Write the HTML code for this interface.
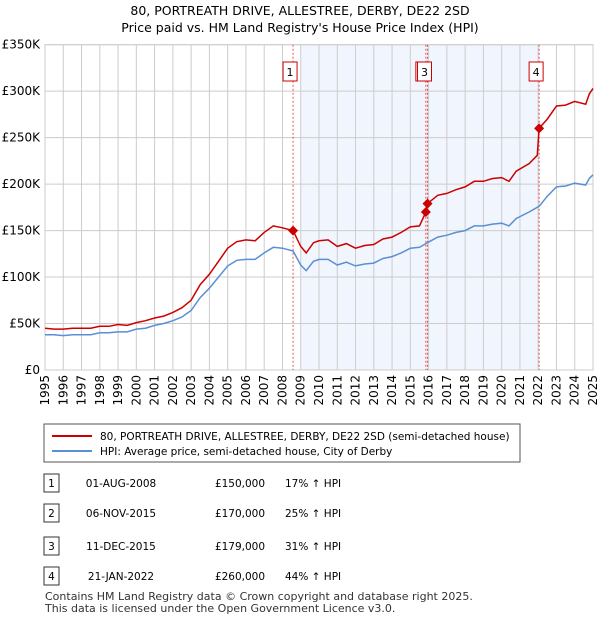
<!DOCTYPE html>
<html><head><meta charset="utf-8"><style>
body{margin:0;background:#fff;font-family:"Liberation Sans","DejaVu Sans",sans-serif;}
#wrap{position:relative;width:600px;height:620px;overflow:hidden}
svg text{font-family:"DejaVu Sans","Liberation Sans",sans-serif;}
</style></head><body><div id="wrap">
<svg id="chart" width="600" height="620">
<text x="300" y="15" text-anchor="middle" font-size="12.5">80, PORTREATH DRIVE, ALLESTREE, DERBY, DE22 2SD</text>
<text x="300" y="32" text-anchor="middle" font-size="12.5">Price paid vs. HM Land Registry's House Price Index (HPI)</text>
<g id="grid"></g><g id="marks"></g><g id="axes"></g>
<rect x="44" y="424" width="476" height="38" fill="#fff" stroke="#555"/>
<line x1="52" y1="436" x2="92" y2="436" stroke="#cc0000" stroke-width="2"/>
<text x="100" y="440" font-size="10.5">80, PORTREATH DRIVE, ALLESTREE, DERBY, DE22 2SD (semi-detached house)</text>
<line x1="52" y1="451" x2="92" y2="451" stroke="#5b8fd4" stroke-width="2"/>
<text x="100" y="455" font-size="10.5">HPI: Average price, semi-detached house, City of Derby</text>
<g id="table" font-size="10.5"></g>
<text x="45" y="600" font-size="11" fill="#333">Contains HM Land Registry data © Crown copyright and database right 2025.</text>
<text x="45" y="612" font-size="11" fill="#333">This data is licensed under the Open Government Licence v3.0.</text>
</svg></div>
<script>
const dates=[1995.0,1995.5,1996.0,1996.5,1997.0,1997.5,1998.0,1998.5,1999.0,1999.5,2000.0,2000.5,2001.0,2001.5,2002.0,2002.5,2003.0,2003.5,2004.0,2004.5,2005.0,2005.5,2006.0,2006.5,2007.0,2007.5,2008.0,2008.58,2009.0,2009.3,2009.7,2010.0,2010.5,2011.0,2011.5,2012.0,2012.5,2013.0,2013.5,2014.0,2014.5,2015.0,2015.5,2015.85,2015.94,2016.5,2017.0,2017.5,2018.0,2018.5,2019.0,2019.5,2020.0,2020.4,2020.8,2021.5,2021.95,2022.05,2022.5,2023.0,2023.5,2024.0,2024.6,2024.8,2025.0];
const hpiValues=[38,38,37,38,38,38,40,40,41,41,44,45,48,50,53,57,64,78,88,100,112,118,119,119,126,132,131,128,113,107,117,119,119,113,116,112,114,115,120,122,126,131,132,136,137,143,145,148,150,155,155,157,158,155,163,170,175,176,187,197,198,201,199,206,210];
const priceValues=[45,44,44,45,45,45,47,47,49,48,51,53,56,58,62,67,75,92,103,117,131,138,140,139,148,155,153,150,133,126,137,139,140,133,136,131,134,135,141,143,148,154,155,170,179,188,190,194,197,203,203,206,207,203,214,222,231,260,270,284,285,289,286,297,303];
const saleLabels=["1","2","3","4"];
const saleDates=[2008.58,2015.85,2015.94,2022.05];
const salePrices=[150,170,179,260];
const saleDateText=["01-AUG-2008","06-NOV-2015","11-DEC-2015","21-JAN-2022"];
const salePriceText=["£150,000","£170,000","£179,000","£260,000"];
const salePctText=["17% ↑ HPI","25% ↑ HPI","31% ↑ HPI","44% ↑ HPI"];
const yTicks=[0,50,100,150,200,250,300,350];
const yTickLabels=["£0","£50K","£100K","£150K","£200K","£250K","£300K","£350K"];
const xTicks=[1995,1996,1997,1998,1999,2000,2001,2002,2003,2004,2005,2006,2007,2008,2009,2010,2011,2012,2013,2014,2015,2016,2017,2018,2019,2020,2021,2022,2023,2024,2025];
const shadeRange=[2009.0,2022.05];

const NS="http://www.w3.org/2000/svg";
const X0=45,X1=593,Y0=370,Y1=44.7;
const xs=d=>X0+(d-1995)/30*(X1-X0);
const ys=v=>Y0-v/350*(Y0-Y1);
function mk(t,a,p){const e=document.createElementNS(NS,t);for(const k in a)e.setAttribute(k,a[k]);p.appendChild(e);return e;}
const grid=document.getElementById('grid'),marks=document.getElementById('marks'),axes=document.getElementById('axes'),table=document.getElementById('table');
const sh=mk('rect',{x:xs(shadeRange[0]),y:Y1,width:xs(shadeRange[1])-xs(shadeRange[0]),height:Y0-Y1,fill:'#eef3fc',opacity:0.8},grid);


yTicks.forEach((v,i)=>{
 const l=mk('line',{x1:X0,x2:X1,y1:ys(v),y2:ys(v),stroke:'#ccc'},grid);
 
 
 const t=mk('text',{x:40,y:ys(v)+4,'text-anchor':'end','font-size':12},axes);
 t.textContent=yTickLabels[i];
 
 
});
xTicks.forEach(d=>{
 const l=mk('line',{x1:xs(d),x2:xs(d),y1:Y1,y2:Y0,stroke:'#ccc'},grid);
 
 
 const t=mk('text',{x:0,y:0,'text-anchor':'end','font-size':12,transform:`translate(${xs(d)+4},${Y0+5}) rotate(-90)`},axes);
 t.textContent=d;
 
 
});
const fr=mk('rect',{x:X0,y:Y1,width:X1-X0,height:Y0-Y1,fill:'none',stroke:'#ccc'},grid);


saleDates.forEach((d,i)=>{
 const l=mk('line',{x1:xs(d),x2:xs(d),y1:Y1,y2:Y0,stroke:'#e05555','stroke-dasharray':'2,2'},marks);
 
 
});
const pathOf=arr=>arr.map((v,i)=>(i?'L':'M')+xs(dates[i]).toFixed(1)+','+ys(v).toFixed(1)).join('');
const hp=mk('path',{d:pathOf(hpiValues),fill:'none',stroke:'#5b8fd4','stroke-width':1.5},marks);


const pp=mk('path',{d:pathOf(priceValues),fill:'none',stroke:'#cc0000','stroke-width':1.5},marks);


saleDates.forEach((d,i)=>{
 const cx=xs(d),cy=ys(salePrices[i]);
 const m=mk('path',{d:`M${cx},${cy-5}L${cx+5},${cy}L${cx},${cy+5}L${cx-5},${cy}Z`,fill:'#cc0000'},marks);
 
 
 const b=mk('rect',{x:cx-10,y:62,width:14,height:19,fill:'#fff',stroke:'#cc0000'},marks);
 
 
 const t=mk('text',{x:cx-3,y:76,'text-anchor':'middle','font-size':11},marks);
 t.textContent=saleLabels[i];
 
 
});
const rowY=[483,513,546,576];
saleLabels.forEach((s,i)=>{
 const y=rowY[i];
 const b=mk('rect',{x:44,y:y-9,width:15,height:18,fill:'#fff',stroke:'#333'},table);
 
 
 const cells=[[51.5,s,'middle'],[121,saleDateText[i],'middle'],[240,salePriceText[i],'middle'],[285,salePctText[i],'start']];
 cells.forEach((c,j)=>{
  const t=mk('text',{x:c[0],y:y+4,'text-anchor':c[2]},table);
  t.textContent=c[1];
  
  
 });
});
</script></body></html>
